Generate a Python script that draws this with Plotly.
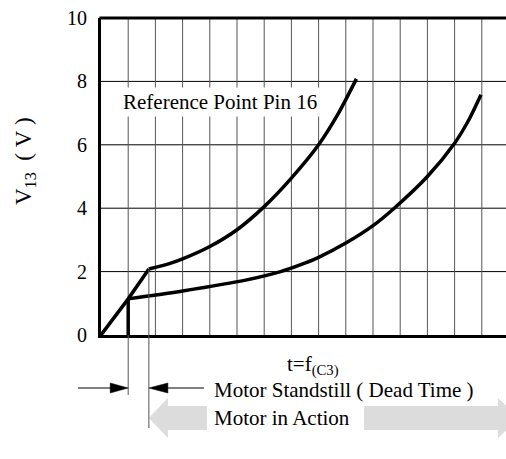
import plotly.graph_objects as go

# ---- data (x in grid units, y in volts) ----
ramp_t = [0.0, 1.0, 1.76]
ramp_v = [0.0, 1.14, 2.08]

upper_t = [1.76, 2.54, 3.0, 4.0, 5.0, 6.0, 7.0, 8.0, 8.7, 9.39]
upper_v = [2.08, 2.26, 2.4, 2.79, 3.32, 4.05, 4.95, 6.0, 6.95, 8.08]

drop_t = [1.0, 1.0]
drop_v = [0.0, 1.14]

lower_t = [1.0, 3.0, 5.36, 6.6, 7.32, 8.0, 9.0, 10.0, 10.78, 12.0, 13.0, 13.5, 13.97]
lower_v = [1.14, 1.39, 1.74, 2.0, 2.21, 2.45, 2.9, 3.45, 4.0, 5.0, 6.05, 6.75, 7.58]

y_ticks = [0, 2, 4, 6, 8, 10]
y_tick_labels = ["0", "2", "4", "6", "8", "10"]

dead_start, dead_end = 1.0, 1.76
dead_end_v = 2.08

W, H = 506, 459
ML, MR, MT, MB = 101, 0, 18, 124
PW, PH = W - ML - MR, H - MT - MB
UNIT = 27.2
XMAX = PW / UNIT
FONT = "Liberation Serif, Times New Roman, serif"
TXT = 21
NB = "\u00a0"

def px(xp):  # pixel x -> paper
    return (xp - ML) / PW

def py(yp):  # pixel y -> paper
    return (H - MB - yp) / PH

def dx(xu):  # data x -> paper
    return xu / XMAX

fig = go.Figure()
line_style = dict(color="black", width=3.5)
fig.add_trace(go.Scatter(x=ramp_t, y=ramp_v, mode="lines", line=line_style, hoverinfo="skip"))
fig.add_trace(go.Scatter(x=drop_t, y=drop_v, mode="lines", line=line_style, hoverinfo="skip"))
fig.add_trace(go.Scatter(x=upper_t, y=upper_v, mode="lines", line=dict(**line_style, shape="spline", smoothing=0.8), hoverinfo="skip"))
fig.add_trace(go.Scatter(x=lower_t, y=lower_v, mode="lines", line=dict(**line_style, shape="spline", smoothing=0.8), hoverinfo="skip"))

shapes = []
for yv in y_ticks[1:-1]:
    shapes.append(dict(type="line", xref="paper", yref="y", x0=0, x1=1, y0=yv, y1=yv,
                       line=dict(color="black", width=1), layer="below"))
k = 1
while k < XMAX:
    shapes.append(dict(type="line", xref="x", yref="y", x0=k, x1=k, y0=0, y1=10,
                       line=dict(color="#555555", width=1), layer="below"))
    k += 1
shapes.append(dict(type="line", xref="paper", yref="paper", x0=-0.004, x1=1, y0=1, y1=1,
                   line=dict(color="black", width=3)))
shapes.append(dict(type="line", xref="paper", yref="paper", x0=dx(dead_start), x1=dx(dead_start),
                   y0=0, y1=py(395), line=dict(color="#555555", width=1)))
shapes.append(dict(type="line", xref="paper", yref="paper", x0=dx(dead_end), x1=dx(dead_end),
                   y0=dead_end_v / 10, y1=py(428), line=dict(color="#555555", width=1)))
ya = 388
xs = dx(dead_start) * PW + ML
xe = dx(dead_end) * PW + ML
shapes.append(dict(type="line", xref="paper", yref="paper", x0=px(78), x1=px(xs - 15), y0=py(ya), y1=py(ya),
                   line=dict(color="black", width=1)))
shapes.append(dict(type="path", xref="paper", yref="paper",
                   path=f"M {px(xs)} {py(ya)} L {px(xs-18)} {py(ya-5)} L {px(xs-18)} {py(ya+5)} Z",
                   fillcolor="black", line=dict(color="black", width=0.5)))
shapes.append(dict(type="line", xref="paper", yref="paper", x0=px(xe + 15), x1=px(204), y0=py(ya), y1=py(ya),
                   line=dict(color="black", width=1)))
shapes.append(dict(type="path", xref="paper", yref="paper",
                   path=f"M {px(xe)} {py(ya)} L {px(xe+19)} {py(ya-5)} L {px(xe+19)} {py(ya+5)} Z",
                   fillcolor="black", line=dict(color="black", width=0.5)))
g = "#dcdcdc"
yc = 418
shapes.append(dict(type="path", xref="paper", yref="paper",
                   path=(f"M {px(xe)} {py(yc)} L {px(xe+19)} {py(398)} L {px(xe+19)} {py(406)} "
                         f"L {px(207)} {py(406)} L {px(207)} {py(430)} L {px(xe+19)} {py(430)} "
                         f"L {px(xe+19)} {py(438)} Z"),
                   fillcolor=g, line=dict(width=0), layer="below"))
shapes.append(dict(type="path", xref="paper", yref="paper",
                   path=(f"M {px(519)} {py(yc)} L {px(498)} {py(398)} L {px(498)} {py(406)} "
                         f"L {px(364)} {py(406)} L {px(364)} {py(430)} L {px(498)} {py(430)} "
                         f"L {px(498)} {py(438)} Z"),
                   fillcolor=g, line=dict(width=0), layer="below"))

ann = []
ann.append(dict(text="Reference Point Pin 16", xref="paper", yref="paper", x=px(120), y=py(102),
                xanchor="left", yanchor="middle", showarrow=False, bgcolor="white",
                font=dict(family=FONT, size=TXT, color="black"), borderpad=2))
ann.append(dict(text=f"V<sub>13</sub>{NB}{NB}({NB}V{NB})", xref="paper", yref="paper", x=px(25), y=py(161),
                xanchor="center", yanchor="middle", showarrow=False, textangle=-90,
                font=dict(family=FONT, size=23, color="black")))
ann.append(dict(text="t=f<sub>(C3)</sub>", xref="paper", yref="paper", x=px(285), y=py(365),
                xanchor="left", yanchor="middle", showarrow=False,
                font=dict(family=FONT, size=TXT, color="black")))
ann.append(dict(text="Motor Standstill ( Dead Time )", xref="paper", yref="paper", x=px(212), y=py(390),
                xanchor="left", yanchor="middle", showarrow=False,
                font=dict(family=FONT, size=TXT, color="black")))
ann.append(dict(text="Motor in Action", xref="paper", yref="paper", x=px(212), y=py(418),
                xanchor="left", yanchor="middle", showarrow=False,
                font=dict(family=FONT, size=TXT, color="black")))

fig.update_layout(
    width=W, height=H, margin=dict(l=ML, r=MR, t=MT, b=MB),
    plot_bgcolor="white", paper_bgcolor="white", showlegend=False,
    shapes=shapes, annotations=ann,
    xaxis=dict(range=[0, XMAX], showgrid=False, zeroline=False, showticklabels=False,
               showline=True, linecolor="black", linewidth=3, ticks=""),
    yaxis=dict(range=[0, 10], tickvals=y_ticks, ticktext=y_tick_labels, showgrid=False,
               zeroline=False, showline=True, linecolor="black", linewidth=3, ticks="",
               ticklabelstandoff=7, tickfont=dict(family=FONT, size=20, color="black")),
)
fig.write_html("out.html", config={"displayModeBar": False},
               post_script="document.body.style.margin='0';document.body.style.overflow='hidden';")
